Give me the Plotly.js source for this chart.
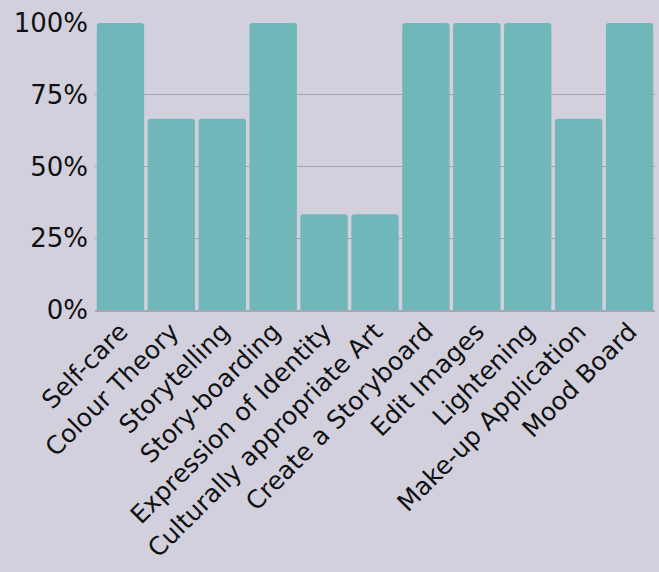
<!DOCTYPE html>
<html><head><meta charset="utf-8">
<script src="https://cdn.plot.ly/plotly-3.0.1.min.js"></script>
<style>html,body{margin:0;padding:0;background:#d3d0de;}#chart{width:659px;height:572px;}</style>
</head><body><div id="chart"></div>
<script>
const categories = ["Self-care","Colour Theory","Storytelling","Story-boarding","Expression of Identity","Culturally appropriate Art","Create a Storyboard","Edit Images","Lightening","Make-up Application","Mood Board"];
const values = [100, 66.67, 66.67, 100, 33.33, 33.33, 100, 100, 100, 66.67, 100];
const yTickVals = [0, 25, 50, 75, 100];
const yTickText = ["0%","25%","50%","75%","100%"];

Plotly.newPlot('chart', [{
  type: 'bar', x: categories, y: values,
  marker: {color: '#6fb7b8', line: {width: 0}},
  hoverinfo: 'none'
}], {
  width: 659, height: 572,
  margin: {l: 95, r: 4, t: 23, b: 262, pad: 0},
  paper_bgcolor: '#d3d0de', plot_bgcolor: '#d3d0de',
  bargap: 0.07,
  barcornerradius: 3,
  font: {family: 'DejaVu Sans, sans-serif', size: 25, color: '#111'},
  xaxis: {tickangle: -45, showgrid: false, showline: true, linecolor: '#a8a5b2', linewidth: 2, ticks: '', tickfont: {size: 25}, ticklabelstandoff: -5},
  yaxis: {range: [0, 100], tickvals: yTickVals, ticktext: yTickText, showgrid: true, gridcolor: '#a5a2b0', gridwidth: 1, zeroline: false, ticks: '', tickfont: {size: 26}, ticklen: 0, ticklabelstandoff: 6},
  showlegend: false
}, {staticPlot: true});
</script></body></html>
